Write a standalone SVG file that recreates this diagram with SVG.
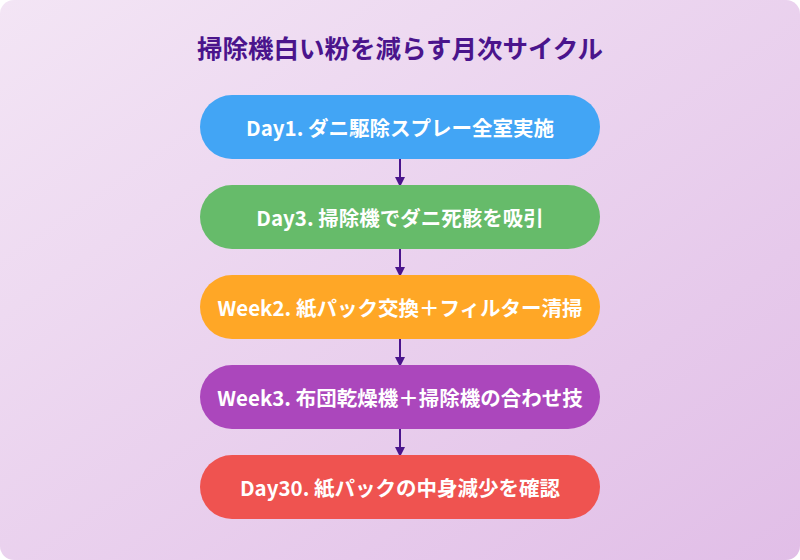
<svg xmlns="http://www.w3.org/2000/svg" width="800" height="560" viewBox="0 0 800 560">
<defs>
<linearGradient id="bg" x1="0" y1="0" x2="1" y2="1"><stop offset="0" stop-color="#f3e5f5"/><stop offset="1" stop-color="#e1bee7"/></linearGradient>
<marker id="ah" markerWidth="10" markerHeight="10" refX="8" refY="5" orient="auto" markerUnits="userSpaceOnUse"><path d="M0,0 L10,5 L0,10 z" fill="#4a148c"/></marker>
</defs>
<style>
.t{font-family:"Noto Sans CJK JP","Noto Sans",sans-serif;font-weight:bold;font-size:20.5px;fill:#fff;text-anchor:middle;dominant-baseline:central}
.c{stroke:#4a148c;stroke-width:2;fill:none;marker-end:url(#ah)}
</style>
<rect width="800" height="560" rx="14" fill="url(#bg)"/>
<text x="400" y="46" style="font-family:'Noto Sans CJK JP',sans-serif;font-weight:bold;font-size:25.5px;fill:#4a148c;text-anchor:middle;dominant-baseline:central">掃除機白い粉を減らす月次サイクル</text>
<g id="connectors">
<line class="c" x1="400" y1="159" x2="400" y2="185"/>
<line class="c" x1="400" y1="249" x2="400" y2="275"/>
<line class="c" x1="400" y1="339" x2="400" y2="365"/>
<line class="c" x1="400" y1="429" x2="400" y2="455"/>
</g>
<g id="n1"><rect x="200" y="95" width="400" height="64" rx="32" fill="#42a5f5"/><text class="t" x="400" y="127">Day1. ダニ駆除スプレー全室実施</text></g>
<g id="n2"><rect x="200" y="185" width="400" height="64" rx="32" fill="#66bb6a"/><text class="t" x="400" y="217">Day3. 掃除機でダニ死骸を吸引</text></g>
<g id="n3"><rect x="200" y="275" width="400" height="64" rx="32" fill="#ffa726"/><text class="t" x="400" y="307">Week2. 紙パック交換＋フィルター清掃</text></g>
<g id="n4"><rect x="200" y="365" width="400" height="64" rx="32" fill="#ab47bc"/><text class="t" x="400" y="397">Week3. 布団乾燥機＋掃除機の合わせ技</text></g>
<g id="n5"><rect x="200" y="455" width="400" height="64" rx="32" fill="#ef5350"/><text class="t" x="400" y="487">Day30. 紙パックの中身減少を確認</text></g>
</svg>
